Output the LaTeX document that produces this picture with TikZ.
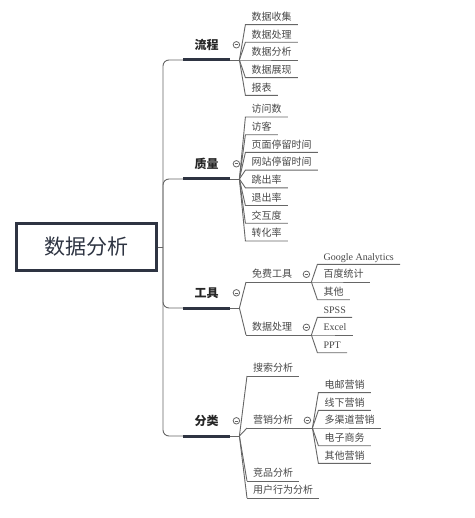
\documentclass[tikz,border=0pt]{standalone}
\usepackage{fontspec}
\setmainfont{Noto Sans CJK SC}
\newfontfamily\latinfont{Liberation Serif}
\usetikzlibrary{positioning}
\definecolor{linegray}{HTML}{666666}
\definecolor{boxdark}{HTML}{2E3442}
\definecolor{textgray}{HTML}{474747}
\tikzset{
  wire/.style={draw=linegray, line width=0.9pt},
  bar/.style={draw=boxdark, line width=3pt},
  topic/.style={font=\fontsize{12}{12}\selectfont\bfseries, text=black!85,
    inner xsep=0pt, inner ysep=8pt, minimum width=47pt,
    text height=9pt, text depth=2pt, anchor=south west},
  leaf/.style={font=\fontsize{10}{10}\selectfont, text=textgray,
    inner xsep=6pt, inner ysep=2.5pt, text height=8.5pt, text depth=1.5pt,
    anchor=south west},
  knob/.style={circle, draw=linegray, line width=0.8pt, inner sep=0pt, minimum size=6.5pt,
    path picture={\draw[linegray, line width=0.6pt]
      ([xshift=-1.7pt]path picture bounding box.center) -- ([xshift=1.7pt]path picture bounding box.center);}},
}
\begin{document}
\begin{tikzpicture}[x=1pt,y=-1pt]
    \useasboundingbox (0,0) rectangle (474,518);
    \node[draw=boxdark, line width=3pt, minimum width=140pt, minimum height=47pt,
        font=\fontsize{21}{21}\selectfont, text=boxdark] (root) at (86,247) {数据分析};
    \coordinate (hub) at (163,247);
    \draw[wire] (root.east) -- (hub);

    \node[topic] (liucheng) at (183,60) {流程};
    \node[topic] (zhiliang) at (183,179) {质量};
    \node[topic] (gongju) at (183,308) {工具};
    \node[topic] (fenlei) at (183,436) {分类};
    \foreach \t in {liucheng,zhiliang,gongju,fenlei} {
        \draw[wire, rounded corners=6pt] (hub) |- (\t.south west);
        \draw[bar] (\t.south west) -- (\t.south east);
        \node[knob] (\t-k) at ([xshift=6pt,yshift=1.5pt]\t.east) {};
        \coordinate (\t-j) at ([xshift=9pt]\t.south east);
        \draw[wire] (\t.south east) -- (\t-j);
    }

    \foreach \txt [count=\i] in {数据收集,数据处理,数据分析,数据展现,报表} {
        \path (liucheng-j) ++(6,{(\i-3)*17.7}) node[leaf] (liucheng-\i) {\txt};
        \draw[wire] (liucheng-j) -- (liucheng-\i.south west) -- (liucheng-\i.south east);
    }
    \foreach \txt [count=\i] in {访问数,访客,页面停留时间,网站停留时间,跳出率,退出率,交互度,转化率} {
        \path (zhiliang-j) ++(6,{(\i-4.5)*17.7}) node[leaf] (zhiliang-\i) {\txt};
        \draw[wire] (zhiliang-j) -- (zhiliang-\i.south west) -- (zhiliang-\i.south east);
    }

    \node[leaf] (free) at (246,282) {免费工具};
    \node[leaf] (proc) at (246,335) {数据处理};
    \node[leaf] (search) at (247,376) {搜索分析};
    \node[leaf] (market) at (247,428) {营销分析};
    \node[leaf] (rival) at (247,481) {竞品分析};
    \node[leaf] (user) at (247,498) {用户行为分析};
    \foreach \s in {free,proc} {
        \draw[wire] (gongju-j) -- (\s.south west);
    }
    \foreach \s in {search,market,rival,user} {
        \draw[wire] (fenlei-j) -- (\s.south west);
    }
    \foreach \s in {search,rival,user} {
        \draw[wire] (\s.south west) -- (\s.south east);
    }
    \foreach \s in {free,proc,market} {
        \node[knob] (\s-k) at ([xshift=8pt]\s.east) {};
        \coordinate (\s-j) at ([xshift=13pt]\s.south east);
        \draw[wire] (\s.south west) -- (\s-j);
    }

    \foreach \txt [count=\i] in {{\latinfont Google Analytics},百度统计,其他} {
        \path (free-j) ++(6,{(\i-2)*17.7}) node[leaf] (free-\i) {\txt};
        \draw[wire] (free-j) -- (free-\i.south west) -- (free-\i.south east);
    }
    \foreach \txt [count=\i] in {{\latinfont SPSS},{\latinfont Excel},{\latinfont PPT}} {
        \path (proc-j) ++(6,{(\i-2)*17.7}) node[leaf] (proc-\i) {\txt};
        \draw[wire] (proc-j) -- (proc-\i.south west) -- (proc-\i.south east);
    }
    \foreach \txt [count=\i] in {电邮营销,线下营销,多渠道营销,电子商务,其他营销} {
        \path (market-j) ++(6,{(\i-3)*17.7}) node[leaf] (market-\i) {\txt};
        \draw[wire] (market-j) -- (market-\i.south west) -- (market-\i.south east);
    }
\end{tikzpicture}
\end{document}
